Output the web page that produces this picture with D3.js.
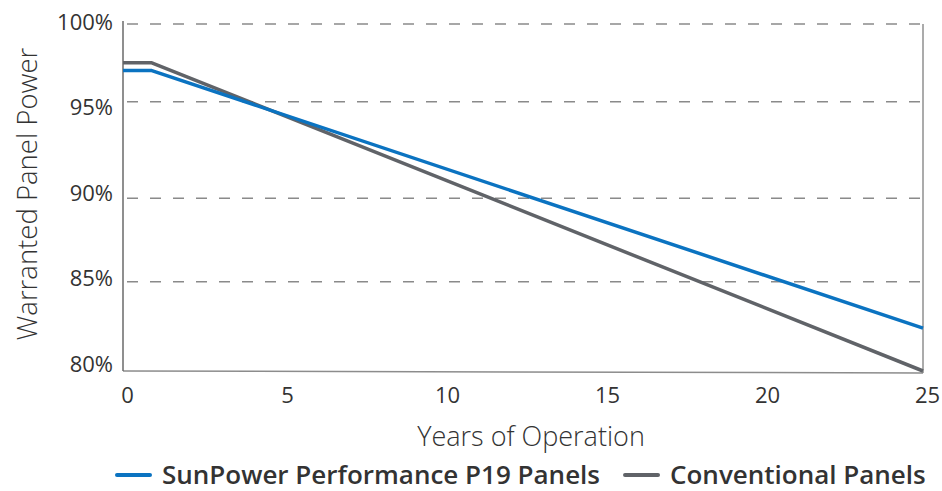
<!DOCTYPE html>
<html>
<head>
<meta charset="utf-8">
<script src="https://cdn.jsdelivr.net/npm/d3@7"></script>
<style>
  body { margin: 0; background: #fff; }
  svg { display: block; font-family: "Open Sans", sans-serif; }
</style>
</head>
<body>
<svg id="chart" width="942" height="491"></svg>
<script>
// values
const years = [0, 0.9, 25]
const sunpower = [97, 97, 82.4]
const conventional = [97.5, 97.5, 80]
const seriesNames = ["SunPower Performance P19 Panels", "Conventional Panels"]
const seriesColors = ["#0b73c1", "#606368"]
const yTicks = [80, 85, 90, 95, 100]
const xTicks = [0, 5, 10, 15, 20, 25]

const svg = d3.select("#chart")

const x = d3.scaleLinear().domain([0, 25]).range([123, 923])
// the source image has uneven grid spacing, so use a polylinear scale
const y = d3.scaleLinear().domain(yTicks).range([371, 281.7, 198.3, 101.7, 24])
// tick labels in the source sit evenly spaced
const yLabel = d3.scaleLinear().domain([80, 100]).range([364, 22])

// gridlines
svg.append("g")
    .selectAll("line")
    .data(yTicks.filter(d => d > 80))
    .join("line")
    .attr("x1", x(0) + 4)
    .attr("x2", x(25))
    .attr("y1", d => y(d))
    .attr("y2", d => y(d))
    .attr("stroke", "#8a8a8a")
    .attr("stroke-width", 1.5)
    .attr("stroke-dasharray", "11,12")

// right border
svg.append("line")
    .attr("x1", x(25)).attr("x2", x(25))
    .attr("y1", y(100)).attr("y2", y(80) + 2)
    .attr("stroke", "#ababab")
    .attr("stroke-width", 2)

// bottom axis line
svg.append("line")
    .attr("x1", x(0)).attr("x2", x(25))
    .attr("y1", y(80)).attr("y2", y(80) + 2)
    .attr("stroke", "#8c8c8c")
    .attr("stroke-width", 1.5)

// left axis line
svg.append("line")
    .attr("x1", x(0)).attr("x2", x(0))
    .attr("y1", y(100) - 3).attr("y2", y(80))
    .attr("stroke", "#6a6a6a")
    .attr("stroke-width", 1.5)

// y tick labels
svg.append("g")
    .selectAll("text")
    .data(yTicks)
    .join("text")
    .attr("x", 113)
    .attr("y", d => yLabel(d))
    .attr("dy", "0.36em")
    .attr("text-anchor", "end")
    .attr("font-size", 22)
    .attr("fill", "#333")
    .text(d => d + "%")

// x axis tick labels via d3 axis
const xAxis = svg.append("g")
    .attr("transform", `translate(0,${y(80)})`)
    .call(d3.axisBottom(x).tickValues(xTicks).tickSize(0).tickPadding(16))
xAxis.select(".domain").remove()
xAxis.selectAll("text")
    .attr("font-size", 22)
    .attr("font-family", "Open Sans")
    .attr("fill", "#333")
    .attr("dx", 4)

// axis titles
svg.append("text")
    .attr("x", 531)
    .attr("y", 446)
    .attr("text-anchor", "middle")
    .attr("font-size", 27)
    .attr("font-weight", 300)
    .attr("fill", "#333")
    .text("Years of Operation")

svg.append("text")
    .attr("transform", "translate(37,194) rotate(-90)")
    .attr("text-anchor", "middle")
    .attr("font-size", 27.5)
    .attr("font-weight", 300)
    .attr("fill", "#333")
    .text("Warranted Panel Power")

// lines
const line = d3.line()
    .x((d, i) => x(years[i]))
    .y(d => y(d))

;[conventional, sunpower].forEach((s, k) => {
    svg.append("path")
        .datum(s)
        .attr("d", line)
        .attr("fill", "none")
        .attr("stroke", seriesColors[1 - k])
        .attr("stroke-width", 3.5)
        .attr("stroke-linejoin", "round")
})

// legend
const legend = svg.append("g").attr("transform", "translate(117,475)")
let lx = 0
seriesNames.forEach((name, i) => {
    const item = legend.append("g").attr("transform", `translate(${lx},0)`)
    item.append("line")
        .attr("x1", 0).attr("x2", 33)
        .attr("stroke", seriesColors[i])
        .attr("stroke-width", 4)
        .attr("stroke-linecap", "round")
    const t = item.append("text")
        .attr("x", 45)
        .attr("y", 8.5)
        .attr("font-size", 26)
        .attr("font-weight", 600)
        .attr("fill", "#333")
        .text(name)
    lx += 45 + t.node().getComputedTextLength() + 25
})
</script>
</body>
</html>
